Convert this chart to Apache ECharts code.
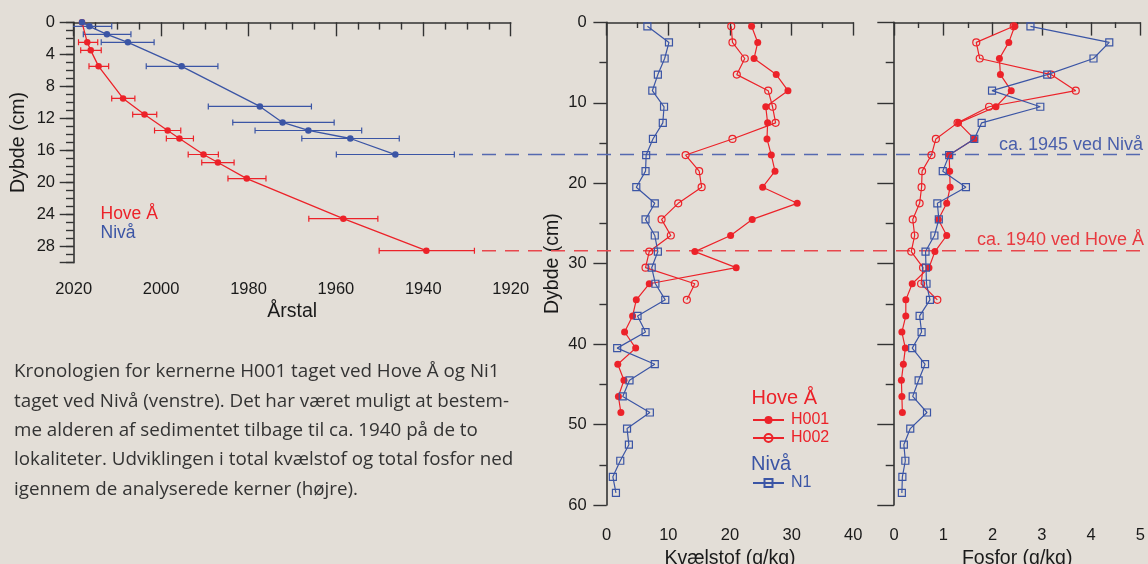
<!DOCTYPE html>
<html>
<head>
<meta charset="utf-8">
<script src="https://cdn.jsdelivr.net/npm/echarts@6/dist/echarts.min.js"></script>
<style>
html,body{margin:0;padding:0;background:#e3ded7;}
#c{width:1148px;height:564px;}
</style>
</head>
<body>
<div id="c"></div>
<script>
// ---------- Left panel: chronology (year vs depth) ----------
const hoveDepth = [0, 2.5, 3.5, 5.5, 9.5, 11.5, 13.5, 14.5, 16.5, 17.5, 19.5, 24.5, 28.5];
const hoveYear  = [2018.1, 2016.9, 2016.1, 2014.3, 2008.7, 2003.8, 1998.5, 1995.8, 1990.3, 1987.0, 1980.4, 1958.3, 1939.3];
const hoveYearHi = [null, 2018.9, 2018.4, 2016.5, 2011.3, 2006.5, 2001.5, 1998.8, 1993.8, 1990.7, 1984.7, 1966.2, 1950.1];
const hoveYearLo = [null, 2014.5, 2013.7, 2012.0, 2006.0, 2001.0, 1995.5, 1992.6, 1986.9, 1983.3, 1976.0, 1950.4, 1928.3];

const nivaDepth = [0, 0.5, 1.5, 2.5, 5.5, 10.5, 12.5, 13.5, 14.5, 16.5];
const nivaYear  = [2018.1, 2016.4, 2012.4, 2007.6, 1995.3, 1977.4, 1972.2, 1966.3, 1956.7, 1946.4];
const nivaYearHi = [null, 2021.5, 2017.8, 2013.7, 2003.4, 1989.2, 1983.6, 1978.5, 1967.8, 1959.9];
const nivaYearLo = [null, 2011.3, 2006.9, 2001.6, 1987.0, 1965.6, 1960.4, 1954.1, 1945.5, 1932.9];

// dated limits (dashed lines)
const limitNivaDepth = 16.5;
const limitHoveDepth = 28.5;
const limitNivaText = 'ca. 1945 ved Nivå';
const limitHoveText = 'ca. 1940 ved Hove Å';

// ---------- Core depths ----------
const n1Depth   = [0.5,2.5,4.5,6.5,8.5,10.5,12.5,14.5,16.5,18.5,20.5,22.5,24.5,26.5,28.5,30.5,32.5,34.5,36.5,38.5,40.5,42.5,44.5,46.5,48.5,50.5,52.5,54.5,56.5,58.5];
const h001Depth = [0.5,2.5,4.5,6.5,8.5,10.5,12.5,14.5,16.5,18.5,20.5,22.5,24.5,26.5,28.5,30.5,32.5,34.5,36.5,38.5,40.5,42.5,44.5,46.5,48.5];
const h002Depth = [0.5,2.5,4.5,6.5,8.5,10.5,12.5,14.5,16.5,18.5,20.5,22.5,24.5,26.5,28.5,30.5,32.5,34.5];

// ---------- Nitrogen (g/kg) ----------
const n1N   = [6.6,10.1,9.4,8.3,7.4,9.3,9.1,7.5,6.4,6.3,4.8,7.8,6.3,7.8,8.3,7.3,7.9,9.5,5.0,6.3,1.7,7.8,3.7,2.6,7.0,3.3,3.6,2.2,1.0,1.5];
const h001N = [23.5,24.5,23.9,27.5,29.4,25.8,26.1,26.0,26.7,27.3,25.3,30.9,23.6,20.1,14.3,21.0,6.9,4.8,4.2,2.9,4.7,1.8,2.8,1.9,2.3];
const h002N = [20.2,20.4,22.4,21.1,26.2,26.9,27.4,20.4,12.8,15.0,15.4,11.6,8.9,10.4,6.9,6.3,14.3,13.0];

// ---------- Phosphorus (g/kg) ----------
const n1P   = [2.77,4.37,4.05,3.11,1.99,2.97,1.78,1.63,1.12,0.99,1.46,0.88,0.91,0.82,0.64,0.65,0.66,0.73,0.52,0.56,0.37,0.63,0.50,0.38,0.67,0.33,0.20,0.23,0.17,0.16];
const h001P = [2.45,2.33,2.14,2.16,2.38,2.07,1.31,1.63,1.12,1.13,1.14,1.07,0.90,1.07,0.83,0.71,0.37,0.24,0.24,0.16,0.23,0.19,0.15,0.16,0.17];
const h002P = [2.43,1.67,1.74,3.19,3.69,1.93,1.29,0.85,0.76,0.57,0.56,0.52,0.38,0.42,0.35,0.59,0.55,0.88];

// ---------- Texts ----------
const caption = [
  'Kronologien for kernerne H001 taget ved Hove Å og Ni1',
  'taget ved Nivå (venstre). Det har været muligt at bestem-',
  'me alderen af sedimentet tilbage til ca. 1940 på de to',
  'lokaliteter. Udviklingen i total kvælstof og total fosfor ned',
  'igennem de analyserede kerner (højre).'
];

const RED = '#ec2229';
const BLUE = '#3b55a5';
const AX = '#333333';
const FONT = '"Liberation Sans", Arial, sans-serif';

const zip = (a, b) => a.map((v, i) => [v, b[i]]);
const errData = (yrs, dep, lo, hi) => yrs.map((v, i) => [v, dep[i], lo[i], hi[i]]).filter(d => d[2] != null);

function errRender(color) {
  return function (params, api) {
    const y = api.value(1);
    const p1 = api.coord([api.value(2), y]);
    const p2 = api.coord([api.value(3), y]);
    const cap = 3;
    const st = { stroke: color, lineWidth: 1.2 };
    return {
      type: 'group',
      children: [
        { type: 'line', shape: { x1: p1[0], y1: p1[1], x2: p2[0], y2: p2[1] }, style: st },
        { type: 'line', shape: { x1: p1[0], y1: p1[1] - cap, x2: p1[0], y2: p1[1] + cap }, style: st },
        { type: 'line', shape: { x1: p2[0], y1: p2[1] - cap, x2: p2[0], y2: p2[1] + cap }, style: st }
      ]
    };
  };
}

const axisLine = { show: true, lineStyle: { color: AX, width: 1.6 } };
const labelStyle = { color: '#1a1a1a', fontSize: 16.5, fontFamily: FONT };
const nameStyle = { color: '#1a1a1a', fontSize: 19.5, fontFamily: FONT };

const chart = echarts.init(document.getElementById('c'));
const option = {
  backgroundColor: '#e3ded7',
  animation: false,
  grid: [
    { left: 73.7, top: 22.3, width: 437, height: 240.4, containLabel: false, outerBoundsMode: 'none' },
    { left: 606.7, top: 22.3, width: 246.6, height: 482.7, containLabel: false, outerBoundsMode: 'none' },
    { left: 894, top: 22.3, width: 246.3, height: 482.7, containLabel: false, outerBoundsMode: 'none' },
    { left: 459, top: 22.3, right: 0, height: 240.4, containLabel: false, outerBoundsMode: 'none' },
    { left: 482, top: 22.3, right: 0, height: 240.4, containLabel: false, outerBoundsMode: 'none' }
  ],
  xAxis: [
    { gridIndex: 0, type: 'value', min: 1920, max: 2020, interval: 20, inverse: true,
      name: 'Årstal', nameLocation: 'middle', nameGap: 39, nameTextStyle: nameStyle,
      axisLine: axisLine, axisTick: { show: true, length: 14, lineStyle: { color: AX, width: 1.4 } },
      minorTick: { show: true, splitNumber: 4, length: 7.3, lineStyle: { color: AX, width: 1.4 } },
      axisLabel: Object.assign({ margin: 18, formatter: v => String(v) }, labelStyle), splitLine: { show: false } },
    { gridIndex: 1, type: 'value', min: 0, max: 40, interval: 10,
      name: 'Kvælstof (g/kg)', nameLocation: 'middle', nameGap: 36, nameTextStyle: nameStyle,
      axisLine: axisLine, axisTick: { show: true, length: 13.3, lineStyle: { color: AX, width: 1.4 } },
      minorTick: { show: true, splitNumber: 2, length: 5.7, lineStyle: { color: AX, width: 1.4 } },
      axisLabel: Object.assign({ margin: 22 }, labelStyle), splitLine: { show: false } },
    { gridIndex: 2, type: 'value', min: 0, max: 5, interval: 1,
      name: 'Fosfor (g/kg)', nameLocation: 'middle', nameGap: 36, nameTextStyle: nameStyle,
      axisLine: axisLine, axisTick: { show: true, length: 13.3, lineStyle: { color: AX, width: 1.4 } },
      minorTick: { show: true, splitNumber: 2, length: 5.7, lineStyle: { color: AX, width: 1.4 } },
      axisLabel: Object.assign({ margin: 22 }, labelStyle), splitLine: { show: false } },
    { gridIndex: 3, type: 'value', min: 0, max: 1, show: false },
    { gridIndex: 4, type: 'value', min: 0, max: 1, show: false }
  ],
  yAxis: [
    { gridIndex: 0, type: 'value', position: 'left', min: 0, max: 30, interval: 4, inverse: true,
      name: 'Dybde (cm)', nameLocation: 'middle', nameGap: 45, nameRotate: 90, nameTextStyle: nameStyle,
      axisLine: axisLine, axisTick: { show: true, length: 14, lineStyle: { color: AX, width: 1.4 } },
      axisLabel: Object.assign({ margin: 18.7, formatter: v => (v % 4 === 0 ? String(v) : '') }, labelStyle),
      splitLine: { show: false } },
    { gridIndex: 0, type: 'value', position: 'left', min: 0, max: 30, interval: 1, inverse: true,
      axisLine: { show: false }, axisLabel: { show: false },
      axisTick: { show: true, length: 7.7, lineStyle: { color: AX, width: 1.4 } }, splitLine: { show: false } },
    { gridIndex: 1, type: 'value', position: 'left', min: 0, max: 60, interval: 10, inverse: true,
      name: 'Dybde (cm)', nameLocation: 'middle', nameGap: 44, nameRotate: 90, nameTextStyle: nameStyle,
      axisLine: axisLine, axisTick: { show: true, length: 13.3, lineStyle: { color: AX, width: 1.4 } },
      minorTick: { show: true, splitNumber: 2, length: 7.3, lineStyle: { color: AX, width: 1.4 } },
      axisLabel: Object.assign({ margin: 20 }, labelStyle), splitLine: { show: false } },
    { gridIndex: 2, type: 'value', position: 'left', min: 0, max: 60, interval: 10, inverse: true,
      axisLine: axisLine, axisTick: { show: true, length: 16.7, lineStyle: { color: AX, width: 1.4 } },
      minorTick: { show: true, splitNumber: 2, length: 8.3, lineStyle: { color: AX, width: 1.4 } },
      axisLabel: { show: false }, splitLine: { show: false } },
    { gridIndex: 3, type: 'value', min: 0, max: 30, inverse: true, show: false },
    { gridIndex: 4, type: 'value', min: 0, max: 30, inverse: true, show: false }
  ],
  legend: [
    { orient: 'vertical', left: 752, top: 412, itemWidth: 31, itemHeight: 10, itemGap: 2, padding: 0,
      selectedMode: false,
      textStyle: { fontSize: 16, fontFamily: FONT, color: RED, padding: [0, 0, 0, 2] },
      data: [{ name: 'H001' }, { name: 'H002' }] },
    { orient: 'vertical', left: 752, top: 475, itemWidth: 31, itemHeight: 10, itemGap: 2, padding: 0,
      selectedMode: false,
      textStyle: { fontSize: 16, fontFamily: FONT, color: BLUE, padding: [0, 0, 0, 2] },
      data: [{ name: 'N1' }] }
  ],
  series: [
    // dashed limit lines
    { type: 'line', xAxisIndex: 3, yAxisIndex: 4, data: [[0, limitNivaDepth], [1, limitNivaDepth]],
      symbol: 'none', silent: true, z: 1,
      lineStyle: { color: '#5569b0', width: 1.4, type: [14, 9] } },
    { type: 'line', xAxisIndex: 4, yAxisIndex: 5, data: [[0, limitHoveDepth], [1, limitHoveDepth]],
      symbol: 'none', silent: true, z: 1,
      lineStyle: { color: '#e8474d', width: 1.4, type: [14, 9] } },
    // left panel
    { type: 'custom', name: 'errHove', xAxisIndex: 0, yAxisIndex: 0, clip: true, z: 3,
      renderItem: errRender(RED), encode: { x: 0, y: 1 },
      data: errData(hoveYear, hoveDepth, hoveYearLo, hoveYearHi) },
    { type: 'line', name: 'Hove Å', xAxisIndex: 0, yAxisIndex: 0, z: 4,
      data: zip(hoveYear, hoveDepth), symbol: 'circle', symbolSize: 6.5,
      itemStyle: { color: RED }, lineStyle: { color: RED, width: 1.3 } },
    { type: 'custom', name: 'errNiva', xAxisIndex: 0, yAxisIndex: 0, clip: true, z: 3,
      renderItem: errRender(BLUE), encode: { x: 0, y: 1 },
      data: errData(nivaYear, nivaDepth, nivaYearLo, nivaYearHi) },
    { type: 'line', name: 'Nivå', xAxisIndex: 0, yAxisIndex: 0, z: 5,
      data: zip(nivaYear, nivaDepth), symbol: 'circle', symbolSize: 6.5,
      itemStyle: { color: BLUE }, lineStyle: { color: BLUE, width: 1.3 } },
    // middle panel (nitrogen)
    { type: 'line', name: 'H002', xAxisIndex: 1, yAxisIndex: 2, z: 4,
      data: zip(h002N, h002Depth), symbol: 'circle', symbolSize: 7,
      itemStyle: { color: 'rgba(0,0,0,0)', borderColor: RED, borderWidth: 1.2 },
      lineStyle: { color: RED, width: 1.2 } },
    { type: 'line', name: 'H001', xAxisIndex: 1, yAxisIndex: 2, z: 4,
      data: zip(h001N, h001Depth), symbol: 'circle', symbolSize: 7,
      itemStyle: { color: RED }, lineStyle: { color: RED, width: 1.2 } },
    { type: 'line', name: 'N1', xAxisIndex: 1, yAxisIndex: 2, z: 5,
      data: zip(n1N, n1Depth), symbol: 'rect', symbolSize: 7,
      itemStyle: { color: 'rgba(0,0,0,0)', borderColor: BLUE, borderWidth: 1.2 },
      lineStyle: { color: BLUE, width: 1.2 } },
    // right panel (phosphorus)
    { type: 'line', name: 'H002', xAxisIndex: 2, yAxisIndex: 3, z: 4,
      data: zip(h002P, h002Depth), symbol: 'circle', symbolSize: 7,
      itemStyle: { color: 'rgba(0,0,0,0)', borderColor: RED, borderWidth: 1.2 },
      lineStyle: { color: RED, width: 1.2 } },
    { type: 'line', name: 'H001', xAxisIndex: 2, yAxisIndex: 3, z: 4,
      data: zip(h001P, h001Depth), symbol: 'circle', symbolSize: 7,
      itemStyle: { color: RED }, lineStyle: { color: RED, width: 1.2 } },
    { type: 'line', name: 'N1', xAxisIndex: 2, yAxisIndex: 3, z: 5,
      data: zip(n1P, n1Depth), symbol: 'rect', symbolSize: 7,
      itemStyle: { color: 'rgba(0,0,0,0)', borderColor: BLUE, borderWidth: 1.2 },
      lineStyle: { color: BLUE, width: 1.2 } }
  ],
  graphic: [
    { type: 'text', x: 100.5, y: 214, style: { text: 'Hove Å', fill: RED, font: '17.5px ' + FONT, verticalAlign: 'middle' } },
    { type: 'text', x: 100.5, y: 233, style: { text: 'Nivå', fill: BLUE, font: '17.5px ' + FONT, verticalAlign: 'middle' } },
    { type: 'text', x: 751.5, y: 398, style: { text: 'Hove Å', fill: RED, font: '20px ' + FONT, verticalAlign: 'middle' } },
    { type: 'text', x: 751, y: 464, style: { text: 'Nivå', fill: BLUE, font: '20px ' + FONT, verticalAlign: 'middle' } },
    { type: 'text', x: 1143, y: 145.5, style: { text: limitNivaText, fill: '#4a5fab', font: '18px ' + FONT, align: 'right', verticalAlign: 'middle' } },
    { type: 'text', x: 1144, y: 240.5, style: { text: limitHoveText, fill: '#e83a40', font: '18px ' + FONT, align: 'right', verticalAlign: 'middle' } },
    { type: 'text', x: 14, y: 357.4, style: { text: caption.join('\n'), fill: '#333333', font: '18.8px "Open Sans", sans-serif', lineHeight: 29.3, verticalAlign: 'top' } }
  ]
};
chart.setOption(option);
</script>
</body>
</html>
